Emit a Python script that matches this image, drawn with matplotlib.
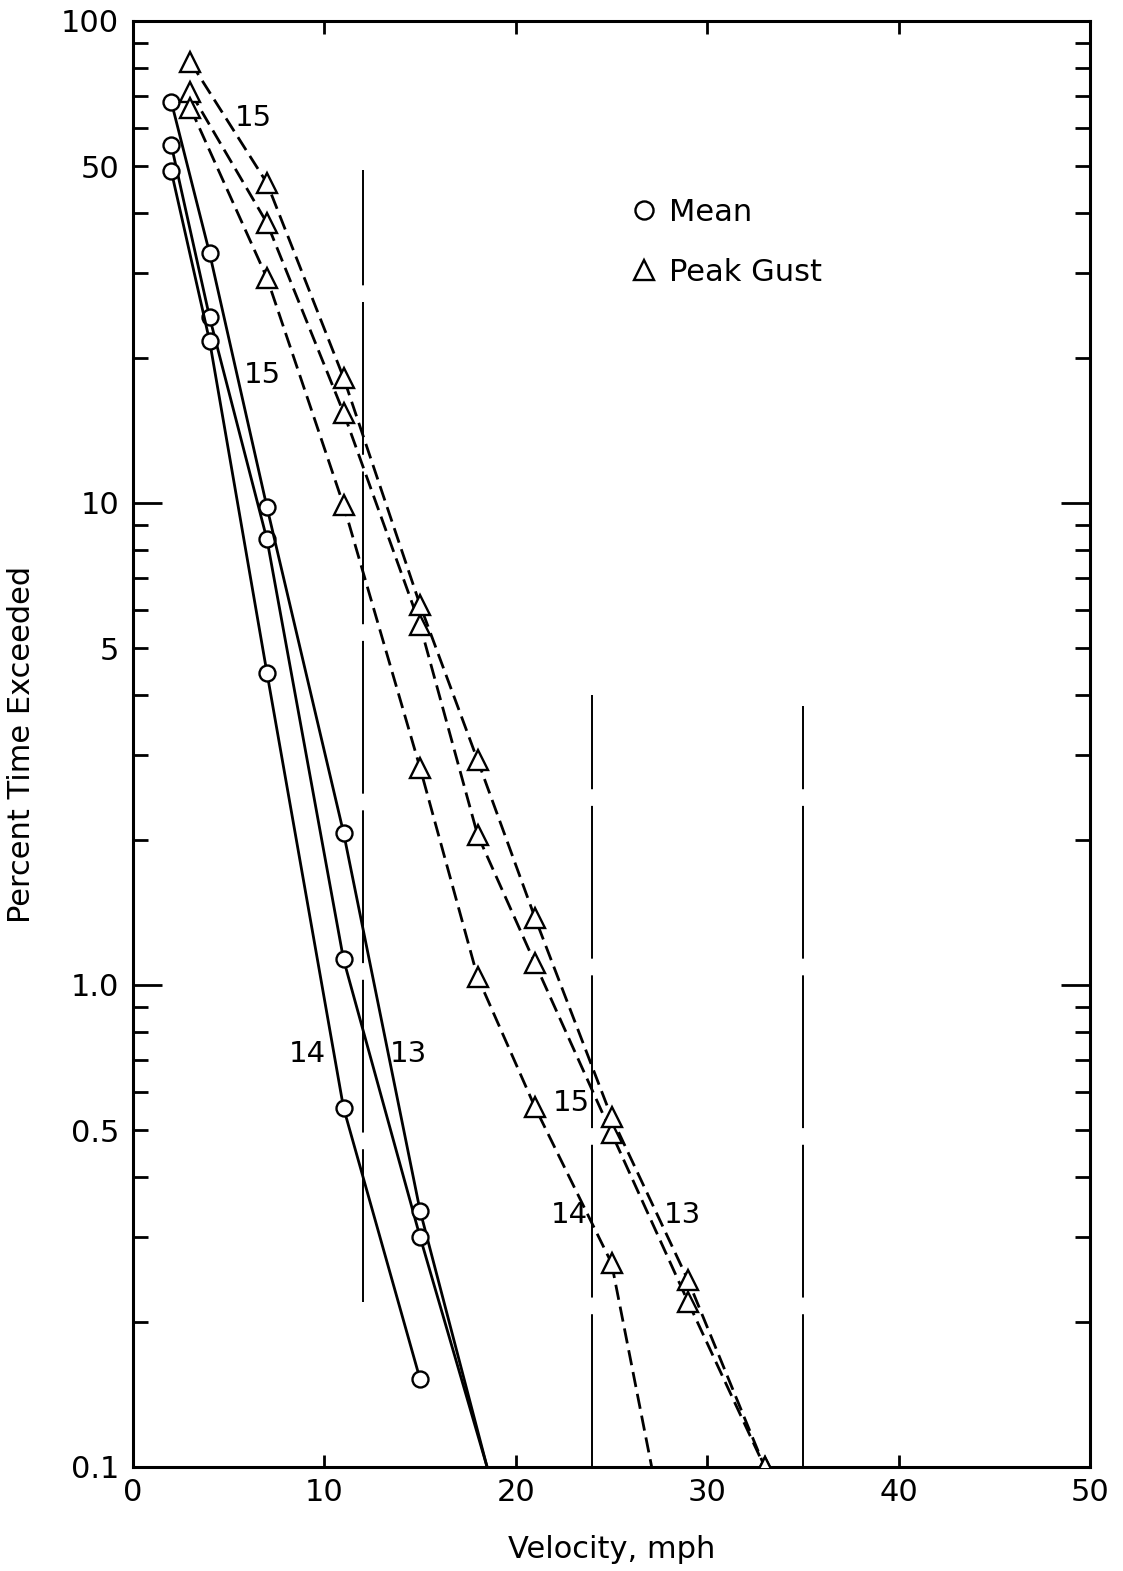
import matplotlib
matplotlib.use("Agg")
import matplotlib.pyplot as plt
from matplotlib.lines import Line2D

plt.rcParams['font.family'] = ['DejaVu Sans']
plt.rcParams['lines.scale_dashes'] = False

# ---------------- data ----------------
# Mean velocity (circles, solid lines)
mean_x = [2, 4, 7, 11, 15]
mean_13 = [55.3, 24.3, 8.4, 1.13, 0.30]
mean_14 = [48.8, 21.7, 4.44, 0.556, 0.152]
mean_15 = [68.0, 33.0, 9.8, 2.07, 0.34]
mean_ext_x = [15, 18.5]          # extrapolated tails of runs 13 and 15
mean_13_ext = [0.30, 0.1]
mean_15_ext = [0.34, 0.1]

# Peak gust (triangles, dashed lines)
gust_x = [3, 7, 11, 15, 18, 21, 25, 29, 33]
gust_13 = [71.2, 38.1, 15.4, 5.58, 2.05, 1.11, 0.493, 0.220, 0.1]
gust_15 = [82.2, 46.1, 18.2, 6.14, 2.93, 1.38, 0.532, 0.244, 0.1]
gust_14_x = [3, 7, 11, 15, 18, 21, 25]
gust_14 = [66.0, 29.3, 9.9, 2.82, 1.04, 0.558, 0.265]
gust_14_ext_x = [25, 27.1]
gust_14_ext = [0.265, 0.1]

# Vertical reference lines
ref_x = [12, 24, 35]
ref_top = [49, 4.0, 3.8]
ref_bottom = [0.22, 0.1, 0.1]

# Run labels
run_labels = ['15', '15', '14', '13', '15', '14', '13']
run_label_x = [6.3, 6.75, 9.1, 14.4, 22.9, 22.8, 28.7]
run_label_y = [63.0, 18.4, 0.72, 0.72, 0.57, 0.333, 0.333]

xticks = [0, 10, 20, 30, 40, 50]
ytick_vals = [0.1, 0.5, 1.0, 5, 10, 50, 100]
ytick_labels = ['0.1', '0.5', '1.0', '5', '10', '50', '100']

# ---------------- figure ----------------
W, H = 1123, 1571
fig = plt.figure(figsize=(W / 100, H / 100), dpi=100)
ax = fig.add_axes([133 / W, 1 - 1467 / H, (1090 - 133) / W, (1467 - 21) / H])
ax.set_yscale('log')
ax.set_xlim(0, 50)
ax.set_ylim(0.1, 100)

lw = 2.0
mk_c = dict(marker='o', markersize=11.5, markerfacecolor='white',
            markeredgecolor='black', markeredgewidth=1.7)
mk_t = dict(marker='^', markersize=14.5, markerfacecolor='white',
            markeredgecolor='black', markeredgewidth=1.7)
dash = (0, (11, 5))

# tails first so markers sit above
ax.plot(mean_ext_x, mean_13_ext, color='black', lw=lw, zorder=2)
ax.plot(mean_ext_x, mean_15_ext, color='black', lw=lw, zorder=2)
ax.plot(gust_14_ext_x, gust_14_ext, color='black', lw=lw, ls=dash, zorder=2)

for ys in (mean_13, mean_14, mean_15):
    ax.plot(mean_x, ys, color='black', lw=lw, zorder=3, **mk_c)
for xs, ys in ((gust_x, gust_13), (gust_x, gust_15), (gust_14_x, gust_14)):
    ax.plot(xs, ys, color='black', lw=lw, ls=dash, zorder=3, **mk_t)

for x0, t, b in zip(ref_x, ref_top, ref_bottom):
    ax.plot([x0, x0], [b, t], color='black', lw=1.4,
            ls=(0, (110, 12)), zorder=1)

for s, x0, y0 in zip(run_labels, run_label_x, run_label_y):
    ax.text(x0, y0, s, fontsize=21, ha='center', va='center')

# legend
handles = [Line2D([], [], ls='none', marker='o', markersize=13,
                  markerfacecolor='white', markeredgecolor='black', markeredgewidth=1.7),
           Line2D([], [], ls='none', marker='^', markersize=15,
                  markerfacecolor='white', markeredgecolor='black', markeredgewidth=1.7)]
ax.legend(handles, ['Mean', 'Peak Gust'], loc='upper left',
          bbox_to_anchor=(0.507, 0.886), frameon=False, fontsize=22,
          handlelength=0.9, handletextpad=0.35, labelspacing=1.0,
          borderaxespad=0)

# ticks
ax.set_xticks(xticks)
ax.set_xticklabels([str(v) for v in xticks])
ax.tick_params(axis='x', which='major', direction='in', length=9, width=2,
               top=True, bottom=True, labelsize=22, pad=8)

ax.set_yticks(ytick_vals)
ax.set_yticklabels(ytick_labels)
minor = [m * 10.0 ** e for e in (-1, 0, 1) for m in (2, 3, 4, 6, 7, 8, 9)]
ax.set_yticks(minor, minor=True)
ax.yaxis.set_minor_formatter(plt.NullFormatter())
ax.tick_params(axis='y', which='both', direction='in', length=11, width=2,
               left=True, right=True, labelsize=22, pad=10)
for tk in ax.yaxis.get_major_ticks():
    if tk.get_loc() in (1.0, 10):
        tk.tick1line.set_markersize(21)
        tk.tick2line.set_markersize(21)

for sp in ax.spines.values():
    sp.set_linewidth(2.2)

ax.set_xlabel('Velocity, mph', fontsize=22, labelpad=20)
ax.set_ylabel('Percent Time Exceeded', fontsize=22, labelpad=18)

fig.savefig('out.png', dpi=100)
